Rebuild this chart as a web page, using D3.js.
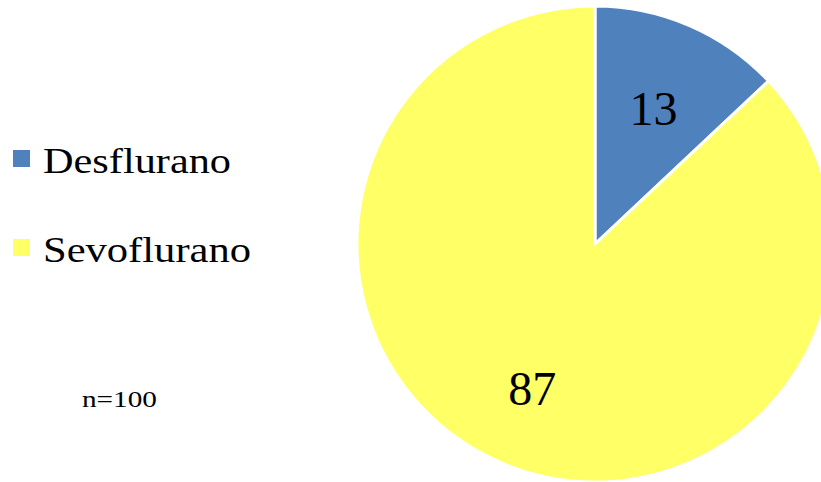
<!DOCTYPE html>
<html><head><meta charset="utf-8">
<script src="https://cdn.jsdelivr.net/npm/d3@7"></script>
<style>html,body{margin:0;padding:0;background:#fff;}</style>
</head><body>
<svg id="c" width="821" height="482"></svg>
<script>
const categories = ["Desflurano", "Sevoflurano"];
const values = [13, 87];
const colors = ["#4F81BD", "#FFFF66"];
const note = "n=100";

const FONT = "'Liberation Serif','Times New Roman',serif";
const svg = d3.select("#c");
const cx = 595, cy = 244, R = 238;
const labelR = [147, 158];
const g = svg.append("g").attr("transform", `translate(${cx},${cy})`);
const pie = d3.pie().sort(null).value(d => d.v);
const data = pie(categories.map((c, i) => ({c, v: values[i], col: colors[i]})));
const arc = d3.arc().innerRadius(0).outerRadius(R);

g.selectAll("path").data(data).join("path")
  .attr("d", arc).attr("fill", d => d.data.col)
  .attr("stroke", "#fff").attr("stroke-width", 3).attr("stroke-linejoin", "round");

g.selectAll("text.lbl").data(data).join("text").attr("class", "lbl")
  .attr("transform", (d, i) => {
    const la = d3.arc().innerRadius(labelR[i]).outerRadius(labelR[i]);
    return `translate(${la.centroid(d)})`;
  })
  .attr("text-anchor", "middle").attr("dy", "0.34em")
  .style("font-family", FONT)
  .attr("font-size", 48).attr("fill", "#000")
  .text(d => d.data.v);

const leg = svg.append("g");
const ly = [173, 262];
categories.forEach((c, i) => {
  leg.append("rect").attr("x", 13).attr("y", ly[i] - 23).attr("width", 17).attr("height", 17).attr("fill", colors[i]);
  leg.append("text").attr("x", 43).attr("y", ly[i])
    .style("font-family", FONT)
    .attr("font-size", 35).attr("fill", "#000")
    .attr("textLength", i === 0 ? 188 : 208).attr("lengthAdjust", "spacingAndGlyphs")
    .text(c);
});
svg.append("text").attr("x", 82).attr("y", 407)
  .style("font-family", FONT)
  .attr("font-size", 23).attr("fill", "#000")
  .attr("textLength", 75).attr("lengthAdjust", "spacingAndGlyphs")
  .text(note);
</script>
</body></html>
